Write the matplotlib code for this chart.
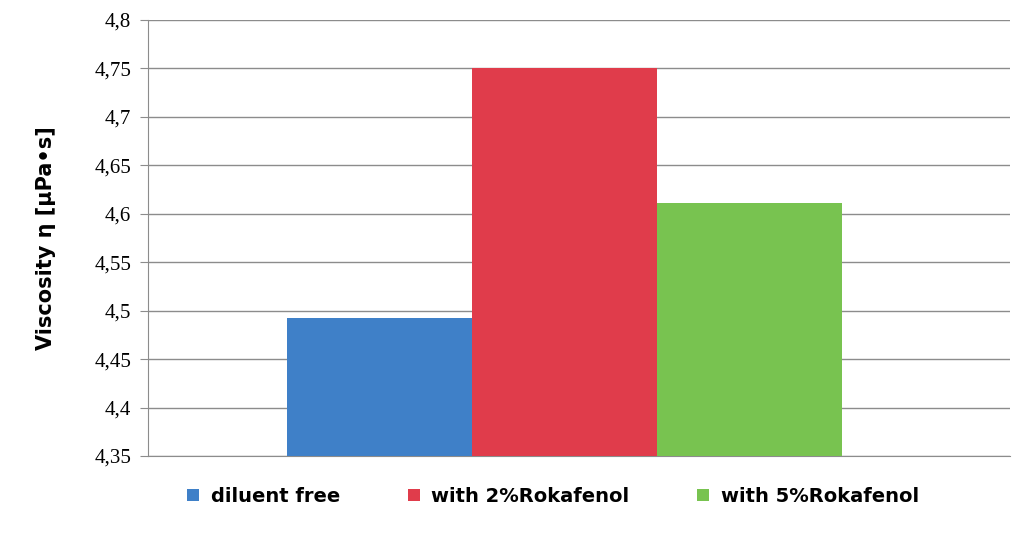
import matplotlib
matplotlib.use("Agg")
import matplotlib.pyplot as plt
from matplotlib.ticker import FuncFormatter

series = ["diluent free", "with 2%Rokafenol", "with 5%Rokafenol"]
values = [4.492, 4.750, 4.611]
colors = ["#3f80c8", "#e03c4b", "#78c350"]
yticks = [4.35, 4.4, 4.45, 4.5, 4.55, 4.6, 4.65, 4.7, 4.75, 4.8]

fig = plt.figure(figsize=(10.23, 5.41), dpi=100)
ax = fig.add_axes([148/1023, 1-456/541, (1010-148)/1023, (456-20)/541])
pos = [-1, 0, 1]
for p, v, c, s in zip(pos, values, colors, series):
    ax.bar(p, v - 4.35, bottom=4.35, width=1.0, color=c, label=s, zorder=3)
ax.set_ylim(4.35, 4.8)
ax.set_xlim(-2.25, 2.41)
ax.set_yticks(yticks)
ax.yaxis.set_major_formatter(FuncFormatter(lambda v, _: f"{v:g}".replace(".", ",")))
ax.set_xticks([])
ax.grid(axis="y", color="#8c8c8c", linewidth=1, zorder=0)
for sp in ["top", "right"]:
    ax.spines[sp].set_visible(False)
ax.spines["left"].set_color("#8c8c8c")
ax.spines["bottom"].set_color("#8c8c8c")
ax.tick_params(axis="y", length=6, color="#8c8c8c", labelsize=15, pad=6)
for t in ax.get_yticklabels():
    t.set_family("Liberation Serif")
ax.set_ylabel("Viscosity η [μPa•s]", fontsize=15, fontweight="bold", labelpad=28)
leg = ax.legend(loc="upper center", bbox_to_anchor=(0.47, -0.03), ncol=3, frameon=False,
                prop={"size": 14, "weight": "bold"}, handlelength=0.6, handleheight=0.6,
                columnspacing=3.5, handletextpad=0.6)
fig.savefig("out.png", dpi=100)
